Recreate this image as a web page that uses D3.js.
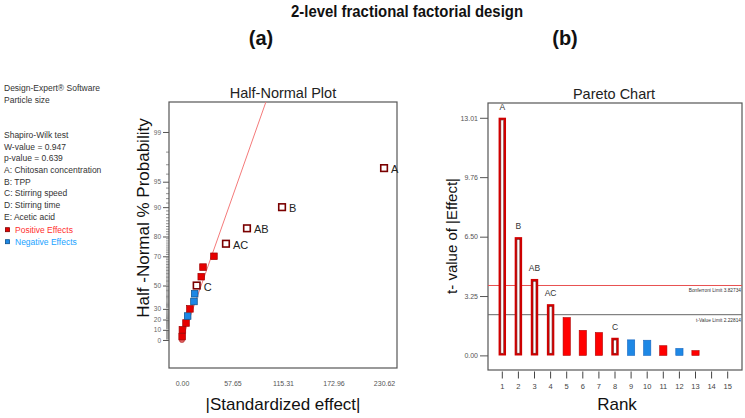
<!DOCTYPE html>
<html>
<head>
<meta charset="utf-8">
<script src="https://cdn.jsdelivr.net/npm/d3@7"></script>
<style>
  body { margin: 0; background: #fff; }
  svg { font-family: "Liberation Sans", Arial, sans-serif; }
</style>
</head>
<body>
<div class="chart"></div>
<script>
// effects, ordered by rank (largest first)
var effectNames = ["A", "B", "AB", "AC", "", "", "", "C", "", "", "", "", "", "", ""];
var ranks = [1, 2, 3, 4, 5, 6, 7, 8, 9, 10, 11, 12, 13, 14, 15];
var tValues = [13.01, 6.47, 4.18, 2.80, 2.07, 1.37, 1.25, 0.96, 0.85, 0.83, 0.53, 0.38, 0.26, 0.02, 0.01];
var stdEffects = [230.62, 114.2, 74.2, 50.2, 36.5, 24.0, 22.0, 16.8, 14.5, 13.7, 9.1, 6.5, 4.6, 0.5, 0.2];
var halfNormalPct = [96.67, 90.00, 83.33, 76.67, 70.00, 63.33, 56.67, 50.00, 43.33, 36.67, 30.00, 23.33, 16.67, 10.00, 3.33];
var effectSign = ["+", "+", "+", "+", "+", "+", "+", "+", "-", "-", "+", "-", "+", "+", "+"];
var inModel = [true, true, true, true, false, false, false, true, false, false, false, false, false, false, false];

// axis ticks
var hnXTicks = [0, 57.65, 115.31, 172.96, 230.62];
var hnYTicks = [0, 10, 20, 30, 50, 70, 80, 90, 95, 99];
var paretoYTicks = [0, 3.25, 6.50, 9.76, 13.01];
var bonferroniLimit = 3.82734;
var tValueLimit = 2.22814;

var legendLines = ["Design-Expert\u00AE Software", "Particle size", "", "",
  "Shapiro-Wilk test", "W-value = 0.947", "p-value = 0.639",
  "A: Chitosan concentration", "B: TPP", "C: Stirring speed",
  "D: Stirring time", "E: Acetic acid"];

var RED = "#e60000", RED_DARK = "#7a0000", BLUE = "#1e88e5", BLUE_DARK = "#0b4f8a";

// inverse normal cdf (Acklam)
function probit(p) {
  var a = [-39.69683028665376, 220.9460984245205, -275.9285104469687, 138.357751867269, -30.66479806614716, 2.506628277459239];
  var b = [-54.47609879822406, 161.5858368580409, -155.6989798598866, 66.80131188771972, -13.28068155288572];
  var c = [-0.007784894002430293, -0.3223964580411365, -2.400758277161838, -2.549732539343734, 4.374664141464968, 2.938163982698783];
  var d = [0.007784695709041462, 0.3224671290700398, 2.445134137142996, 3.754408661907416];
  var q, r;
  if (p < 0.02425) {
    q = Math.sqrt(-2 * Math.log(p));
    return (((((c[0]*q+c[1])*q+c[2])*q+c[3])*q+c[4])*q+c[5]) / ((((d[0]*q+d[1])*q+d[2])*q+d[3])*q+1);
  } else if (p > 1 - 0.02425) {
    q = Math.sqrt(-2 * Math.log(1 - p));
    return -(((((c[0]*q+c[1])*q+c[2])*q+c[3])*q+c[4])*q+c[5]) / ((((d[0]*q+d[1])*q+d[2])*q+d[3])*q+1);
  }
  q = p - 0.5; r = q * q;
  return (((((a[0]*r+a[1])*r+a[2])*r+a[3])*r+a[4])*r+a[5])*q / (((((b[0]*r+b[1])*r+b[2])*r+b[3])*r+b[4])*r+1);
}
function halfZ(pct) { return pct <= 0 ? 0 : probit(0.5 + pct / 200); }

var svg = d3.select(".chart").append("svg")
  .attr("width", 745).attr("height", 418);

// titles
svg.append("text").attr("x", 407).attr("y", 17).attr("text-anchor", "middle")
  .style("font", "bold 16px 'Liberation Sans Narrow', 'Liberation Sans', Arial")
  .attr("textLength", 232).attr("lengthAdjust", "spacingAndGlyphs")
  .attr("fill", "#111").text("2-level fractional factorial design");
svg.append("text").attr("x", 261).attr("y", 45).attr("text-anchor", "middle")
  .style("font", "bold 20px 'Liberation Sans', Arial").attr("fill", "#111").text("(a)");
svg.append("text").attr("x", 565).attr("y", 45).attr("text-anchor", "middle")
  .style("font", "bold 20px 'Liberation Sans', Arial").attr("fill", "#111").text("(b)");

// left legend text
var legend = svg.append("g");
legend.selectAll("text").data(legendLines).enter().append("text")
  .attr("x", 4).attr("y", (d, i) => 91 + i * 11.7)
  .style("font-size", "8.5px").attr("fill", "#333").text(d => d);
[["Positive Effects", RED, RED_DARK, "#ff3030"], ["Negative Effects", BLUE, BLUE_DARK, "#1aa3ff"]].forEach(function(e, i) {
  var y = 229.7 + i * 12;
  legend.append("rect").attr("x", 5.5).attr("y", y - 2).attr("width", 4).attr("height", 4)
    .attr("fill", e[1]).attr("stroke", e[2]).attr("stroke-width", 0.8);
  legend.append("text").attr("x", 15).attr("y", y + 3).style("font-size", "8.5px")
    .attr("fill", e[3]).text(e[0]);
});

// ---------- Half-normal plot ----------
var hn = { left: 169, right: 397, top: 102, bottom: 368 };
var hnX = d3.scaleLinear().domain([-14.8, 245.4]).range([hn.left, hn.right]);
var hnY = d3.scaleLinear().domain([-0.347, 2.947]).range([hn.bottom, hn.top]);

svg.append("text").attr("x", 283).attr("y", 98).attr("text-anchor", "middle")
  .style("font-size", "14.5px").attr("fill", "#222").text("Half-Normal Plot");

// minor ticks on probability axis
var minor = d3.range(1, 99).filter(p => hnYTicks.indexOf(p) < 0);
svg.append("g").selectAll("line").data(minor).enter().append("line")
  .attr("x1", hn.left - 3).attr("x2", hn.left)
  .attr("y1", d => hnY(halfZ(d))).attr("y2", d => hnY(halfZ(d)))
  .attr("stroke", "#666").attr("stroke-width", 0.7);

var yAxisHN = d3.axisLeft(hnY).tickValues(hnYTicks.map(halfZ))
  .tickFormat((d, i) => hnYTicks[i]).tickSize(6).tickPadding(2);
var gy = svg.append("g").attr("transform", `translate(${hn.left},0)`).call(yAxisHN);
gy.select(".domain").remove();
gy.selectAll("line").attr("stroke", "#555");
gy.selectAll("text").style("font-size", "6.5px").attr("fill", "#666");

var xAxisHN = d3.axisBottom(hnX).tickValues(hnXTicks).tickFormat(d3.format(".2f")).tickSize(0).tickPadding(13);
var gx = svg.append("g").attr("transform", `translate(0,${hn.bottom})`).call(xAxisHN);
gx.select(".domain").remove();
gx.selectAll("text").style("font-size", "7px").attr("fill", "#555");

svg.append("rect").attr("x", hn.left).attr("y", hn.top)
  .attr("width", hn.right - hn.left).attr("height", hn.bottom - hn.top)
  .attr("fill", "none").attr("stroke", "#555").attr("stroke-width", 1.2);

svg.append("text").attr("x", 283).attr("y", 410).attr("text-anchor", "middle")
  .style("font-size", "17px").attr("fill", "#111").text("|Standardized effect|");
svg.append("text").attr("transform", "translate(149,218) rotate(-90)").attr("text-anchor", "middle")
  .style("font-size", "17px").attr("fill", "#111").text("Half -Normal % Probability");

// fitted line through origin
svg.append("defs").append("clipPath").attr("id", "hnclip").append("rect")
  .attr("x", hn.left).attr("y", hn.top).attr("width", hn.right - hn.left).attr("height", hn.bottom - hn.top);
var slope = 32.5;
svg.append("line").attr("clip-path", "url(#hnclip)")
  .attr("x1", hnX(0)).attr("y1", hnY(0))
  .attr("x2", hnX(slope * 3)).attr("y2", hnY(3))
  .attr("stroke", "#f47a7a").attr("stroke-width", 1);
svg.append("circle").attr("cx", hnX(0)).attr("cy", hnY(0)).attr("r", 2.6)
  .attr("fill", "#e06060").attr("stroke", "#b03030").attr("stroke-width", 0.6);

var pts = ranks.map((r, i) => ({ x: stdEffects[i], p: halfNormalPct[i], sign: effectSign[i], model: inModel[i], name: effectNames[i] }));
var ptsG = svg.append("g");
ptsG.selectAll("rect").data(pts.slice().reverse()).enter().append("rect")
  .attr("x", d => hnX(d.x) - 3.3).attr("y", d => hnY(halfZ(d.p)) - 3.3)
  .attr("width", 6.6).attr("height", 6.6)
  .attr("fill", d => d.model ? "#fff" : (d.sign === "+" ? RED : BLUE))
  .attr("stroke", d => d.model ? RED_DARK : (d.sign === "+" ? "#a00000" : BLUE_DARK))
  .attr("stroke-width", d => d.model ? 1.6 : 0.7);
ptsG.selectAll("text").data(pts.filter(d => d.name)).enter().append("text")
  .attr("x", d => hnX(d.x) + 7).attr("y", d => hnY(halfZ(d.p)) + 5)
  .style("font-size", "11px").attr("fill", "#222").text(d => d.name);

// ---------- Pareto chart ----------
var pa = { left: 488, right: 742, top: 103, bottom: 370 };
var pX = d3.scaleBand().domain(ranks).range([494.25, 735.75]).paddingInner(0.55).paddingOuter(0.275);
var pY = d3.scaleLinear().domain([-0.8, 13.82]).range([pa.bottom, pa.top]);

svg.append("text").attr("x", 614).attr("y", 99).attr("text-anchor", "middle")
  .style("font-size", "14.5px").attr("fill", "#222").text("Pareto Chart");

var yAxisP = d3.axisLeft(pY).tickValues(paretoYTicks).tickFormat(d3.format(".2f")).tickSize(8).tickPadding(2);
var gpy = svg.append("g").attr("transform", `translate(${pa.left},0)`).call(yAxisP);
gpy.select(".domain").remove();
gpy.selectAll("line").attr("stroke", "#555");
gpy.selectAll("text").style("font-size", "7px").attr("fill", "#555");

var xAxisP = d3.axisBottom(pX).tickSize(7).tickPadding(5);
var gpx = svg.append("g").attr("transform", `translate(0,${pa.bottom + 1.5})`).call(xAxisP);
gpx.select(".domain").remove();
gpx.selectAll("line").attr("stroke", "#444");
gpx.selectAll("text").style("font-size", "7.5px").attr("fill", "#444");

svg.append("rect").attr("x", pa.left).attr("y", pa.top)
  .attr("width", pa.right - pa.left).attr("height", pa.bottom - pa.top)
  .attr("fill", "none").attr("stroke", "#555").attr("stroke-width", 1.2);

svg.append("text").attr("x", 617).attr("y", 410).attr("text-anchor", "middle")
  .style("font-size", "17px").attr("fill", "#111").text("Rank");
svg.append("text").attr("transform", "translate(457,236) rotate(-90)").attr("text-anchor", "middle")
  .style("font-size", "15px").attr("fill", "#111").text("t- value of |Effect|");

// limit lines
[[bonferroniLimit, "#e85050", "Bonferroni Limit 3.82734"], [tValueLimit, "#666", "t-Value Limit 2.22814"]].forEach(function(l) {
  svg.append("line").attr("x1", pa.left).attr("x2", pa.right)
    .attr("y1", pY(l[0])).attr("y2", pY(l[0]))
    .attr("stroke", l[1]).attr("stroke-width", 1);
  svg.append("text").attr("x", pa.right - 1).attr("y", pY(l[0]) + 7).attr("text-anchor", "end")
    .style("font-size", "4.8px").attr("fill", "#333").text(l[2]);
});

var bars = ranks.map((r, i) => ({ rank: r, t: tValues[i], sign: effectSign[i], model: inModel[i], name: effectNames[i] }))
  .filter(d => d.rank <= 13);
var barG = svg.append("g");
barG.selectAll("rect").data(bars).enter().append("rect")
  .attr("x", d => pX(d.rank) + (d.model ? 1 : 0))
  .attr("y", d => pY(d.t) + (d.model ? 1 : 0))
  .attr("width", d => pX.bandwidth() - (d.model ? 2 : 0))
  .attr("height", d => pY(0) - pY(d.t) - (d.model ? 2 : 0))
  .attr("fill", d => d.model ? "#fff" : (d.sign === "+" ? "#ff0000" : BLUE))
  .attr("stroke", d => d.model ? "#d00000" : (d.sign === "+" ? "#b00000" : "#1565c0"))
  .attr("stroke-width", d => d.model ? 2.2 : 0.6);
barG.selectAll("rect.inner").data(bars.filter(d => d.model)).enter().append("rect")
  .attr("class", "inner")
  .attr("x", d => pX(d.rank) + 2.2).attr("y", d => pY(d.t) + 2.2)
  .attr("width", pX.bandwidth() - 4.4).attr("height", d => pY(0) - pY(d.t) - 4.4)
  .attr("fill", "none").attr("stroke", "#5a0000").attr("stroke-width", 0.5);
barG.selectAll("text").data(bars.filter(d => d.name)).enter().append("text")
  .attr("x", d => pX(d.rank) + pX.bandwidth() / 2).attr("y", d => pY(d.t) - 8)
  .attr("text-anchor", "middle").style("font-size", "8.5px").attr("fill", "#333").text(d => d.name);
</script>
</body>
</html>
